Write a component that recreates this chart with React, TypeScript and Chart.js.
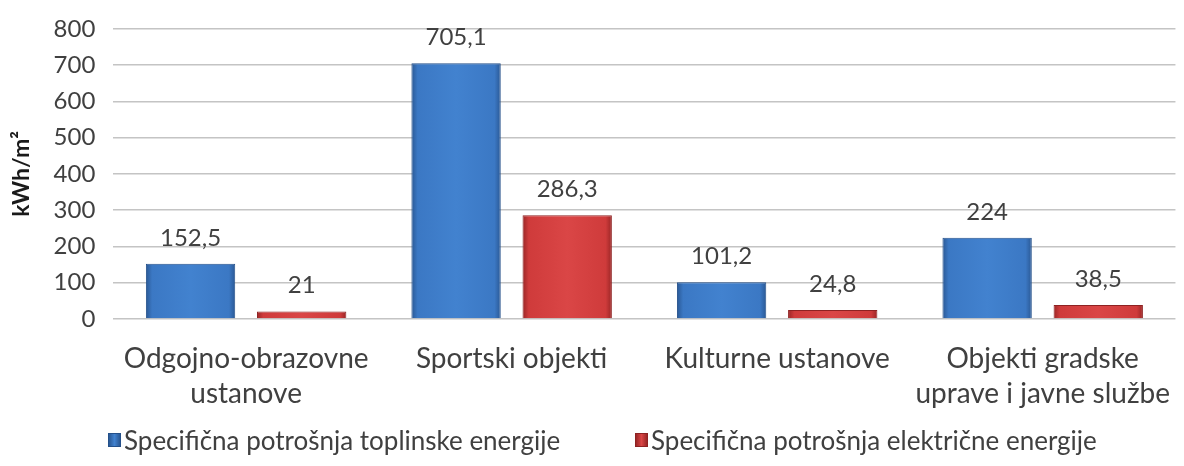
import React, { useEffect, useRef } from "react";
import { Chart, registerables } from "chart.js";

Chart.register(...registerables);

const categories: string[][] = [
  ["Odgojno-obrazovne", "ustanove"],
  ["Sportski objekti"],
  ["Kulturne ustanove"],
  ["Objekti gradske", "uprave i javne službe"],
];
const seriesNames: string[] = [
  "Specifična potrošnja toplinske energije",
  "Specifična potrošnja električne energije",
];
const heatValues: number[] = [152.5, 705.1, 101.2, 224];
const elecValues: number[] = [21, 286.3, 24.8, 38.5];
const yTicks: number[] = [0, 100, 200, 300, 400, 500, 600, 700, 800];

const CAT_PCT = 0.837;
const BAR_PCT = 0.804;
const FONT = "Lato, 'Noto Sans', sans-serif";
const palettes = [
  { edge: "#2a5894", mid: "#3b78c4", center: "#4282cf", solid: "#3a76c2", border: "#24508a" },
  { edge: "#9a2626", mid: "#cf3b3b", center: "#da4646", solid: "#d03c3c", border: "#8e2222" },
];

function barFill(ctx: any) {
  const chart = ctx.chart;
  const ds = ctx.datasetIndex;
  const p = palettes[ds];
  const xs = chart.scales && chart.scales.x;
  if (!xs || !chart.chartArea || ctx.type !== "data") return p.solid;
  const catW = (xs.right - xs.left) / categories.length;
  const slot = (catW * CAT_PCT) / 2;
  const w = slot * BAR_PCT;
  const cx = xs.getPixelForValue(ctx.dataIndex) + (ds - 0.5) * slot;
  const g = chart.ctx.createLinearGradient(cx - w / 2, 0, cx + w / 2, 0);
  g.addColorStop(0, p.edge);
  g.addColorStop(0.07, p.mid);
  g.addColorStop(0.5, p.center);
  g.addColorStop(0.93, p.mid);
  g.addColorStop(1, p.edge);
  return g;
}

const valueLabels = {
  id: "valueLabels",
  afterDatasetsDraw(chart: any) {
    const c = chart.ctx;
    c.save();
    c.font = `24px ${FONT}`;
    c.fillStyle = "#404040";
    c.textAlign = "center";
    c.textBaseline = "alphabetic";
    chart.data.datasets.forEach((d: any, di: number) => {
      const meta = chart.getDatasetMeta(di);
      meta.data.forEach((el: any, i: number) => {
        const txt = String(d.data[i]).replace(".", ",");
        c.fillText(txt, el.x, el.y - 18);
      });
    });
    c.restore();
  },
};

export default function App() {
  const ref = useRef<HTMLCanvasElement | null>(null);
  useEffect(() => {
    if (!ref.current) return;
    const chart = new Chart(ref.current, {
      type: "bar",
      data: {
        labels: categories,
        datasets: [
          {
            label: seriesNames[0],
            data: heatValues,
            backgroundColor: barFill,
            borderColor: palettes[0].border,
            borderWidth: 1,
            categoryPercentage: CAT_PCT,
            barPercentage: BAR_PCT,
          },
          {
            label: seriesNames[1],
            data: elecValues,
            backgroundColor: barFill,
            borderColor: palettes[1].border,
            borderWidth: 1,
            categoryPercentage: CAT_PCT,
            barPercentage: BAR_PCT,
          },
        ],
      },
      options: {
        responsive: false,
        animation: false,
        layout: { padding: { left: 8, top: 20, right: 0, bottom: 41 } },
        plugins: {
          legend: { display: false },
          tooltip: { enabled: false },
        },
        scales: {
          x: {
            grid: { display: false },
            border: { display: false },
            ticks: {
              color: "#404040",
              font: { family: FONT, size: 28, lineHeight: 1.25 },
              padding: 14,
              maxRotation: 0,
              autoSkip: false,
            },
          },
          y: {
            min: 0,
            max: 800,
            afterBuildTicks: (s: any) => {
              s.ticks = yTicks.map((v) => ({ value: v }));
            },
            grid: { color: "#c4c4c4", lineWidth: 1.5, drawTicks: false },
            border: { display: false },
            ticks: {
              color: "#404040",
              font: { family: FONT, size: 24, lineHeight: 0.9 },
              padding: 18,
            },
            title: {
              display: true,
              text: "kWh/m²",
              color: "#1a1a1a",
              font: { family: FONT, size: 23, weight: "bold" },
              padding: 0,
            },
          },
        },
      },
      plugins: [valueLabels],
    });
    return () => chart.destroy();
  }, []);

  const legendItem = (i: number, left: number) => (
    <div
      key={i}
      style={{
        position: "absolute",
        left,
        top: 425,
        height: 30,
        display: "flex",
        alignItems: "center",
        fontFamily: FONT,
        fontSize: 26,
        color: "#404040",
        whiteSpace: "nowrap",
      }}
    >
      <span
        style={{
          display: "inline-block",
          width: 13,
          height: 14,
          marginRight: 3,
          boxSizing: "border-box",
          border: `1px solid ${palettes[i].border}`,
          background: `linear-gradient(90deg, ${palettes[i].edge}, ${palettes[i].center} 50%, ${palettes[i].edge})`,
        }}
      />
      <span>{seriesNames[i]}</span>
    </div>
  );

  return (
    <div style={{ position: "relative", width: 1184, height: 466, margin: -8, background: "#fff" }}>
      <canvas ref={ref} width={1184} height={466} style={{ display: "block" }} />
      {legendItem(0, 108)}
      {legendItem(1, 635)}
    </div>
  );
}
